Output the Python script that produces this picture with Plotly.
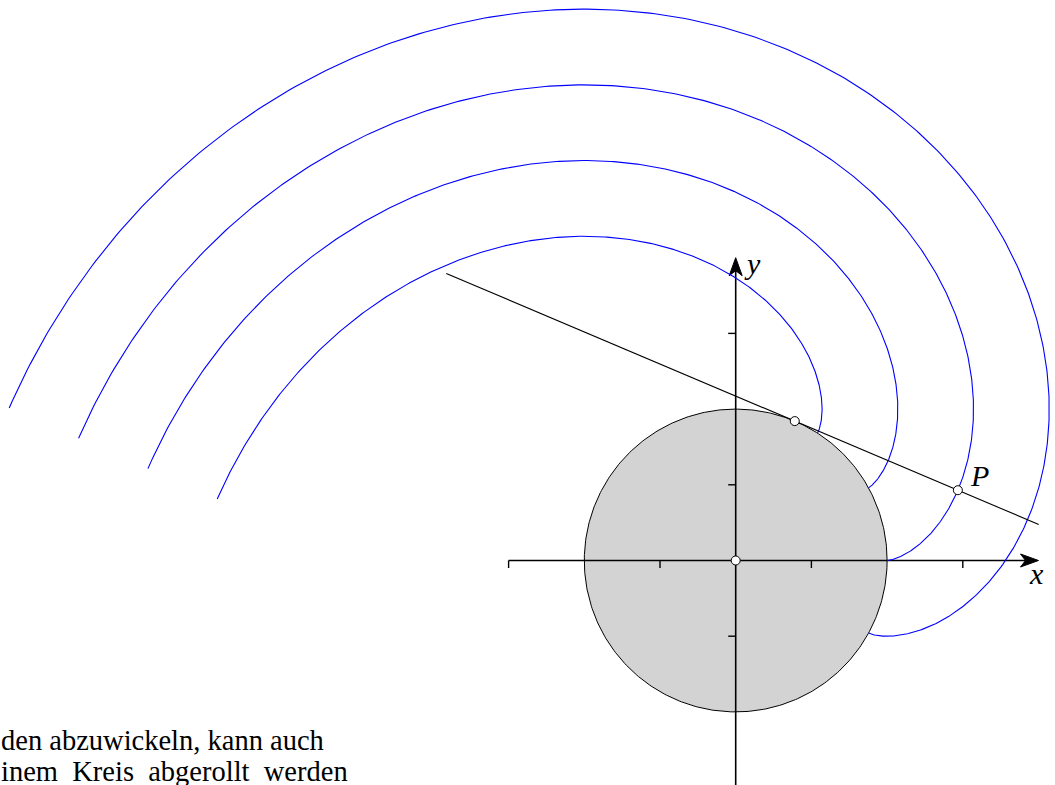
import numpy as np
import plotly.graph_objects as go

# ---- data / parameters ----
radius = 2.0
start_angles = [-0.5, 0.0, 0.5, 1.0]     # where each string starts unwinding (rad)
end_angle = 4.3                           # common end of unwinding (rad)
tangent_angle = 1.17                      # tangent point of the shown string
tangent_extent = [-5.0, 3.5]              # extent of the tangent line (units along line)
x_axis_range = [-3.0, 4.0]
y_axis_range = [-3.0, 4.0]
x_ticks = [-3, -1, 1, 3]
y_ticks = [-3, -1, 1, 3]
axis_labels = ["x", "y"]
point_label = "P"
text_lines = ["den abzuwickeln, kann auch", "inem Kreis abgerollt werden"]

# ---- pixel mapping ----
W, H = 1055, 785
cx, cy, unit = 735.7, 560.5, 75.7
xr = [-cx / unit, (W - cx) / unit]
yr = [(cy - H) / unit, cy / unit]
px = 1.0 / unit

fig = go.Figure()

# filled circle
th = np.linspace(0, 2 * np.pi, 400)
fig.add_trace(go.Scatter(x=radius * np.cos(th), y=radius * np.sin(th), mode="lines",
                         fill="toself", fillcolor="#d3d3d3",
                         line=dict(color="black", width=1), hoverinfo="skip"))

# axes
fig.add_trace(go.Scatter(x=[x_axis_range[0], x_axis_range[1] - 10 * px], y=[0, 0], mode="lines",
                         line=dict(color="black", width=1.6), hoverinfo="skip"))
fig.add_trace(go.Scatter(x=[0, 0], y=[y_axis_range[0], y_axis_range[1] - 10 * px], mode="lines",
                         line=dict(color="black", width=1.6), hoverinfo="skip"))
tl = 7.5 * px
tx, ty = [], []
for t in x_ticks:
    tx += [t, t, None]
    ty += [0, -tl, None]
fig.add_trace(go.Scatter(x=tx, y=ty, mode="lines", line=dict(color="black", width=1.4), hoverinfo="skip"))
tx, ty = [], []
for t in y_ticks:
    tx += [0, -tl, None]
    ty += [t, t, None]
fig.add_trace(go.Scatter(x=tx, y=ty, mode="lines", line=dict(color="black", width=1.4), hoverinfo="skip"))

# arrowheads (stealth-like)
L, Wd, N = 18 * px, 6.5 * px, 13 * px
xe = x_axis_range[1]
fig.add_trace(go.Scatter(x=[xe, xe - L, xe - N, xe - L, xe], y=[0, Wd, 0, -Wd, 0], mode="lines",
                         fill="toself", fillcolor="black", line=dict(color="black", width=1),
                         hoverinfo="skip"))
ye = y_axis_range[1]
fig.add_trace(go.Scatter(x=[0, Wd, 0, -Wd, 0], y=[ye, ye - L, ye - N, ye - L, ye], mode="lines",
                         fill="toself", fillcolor="black", line=dict(color="black", width=1),
                         hoverinfo="skip"))

# involutes
for a0 in start_angles:
    s = np.linspace(a0, end_angle, 500)
    t = s - a0
    xs = radius * (np.cos(s) + t * np.sin(s))
    ys = radius * (np.sin(s) - t * np.cos(s))
    fig.add_trace(go.Scatter(x=xs, y=ys, mode="lines", line=dict(color="#0000ff", width=1.1),
                             hoverinfo="skip"))

# tangent line
Tx, Ty = radius * np.cos(tangent_angle), radius * np.sin(tangent_angle)
dx, dy = np.sin(tangent_angle), -np.cos(tangent_angle)
fig.add_trace(go.Scatter(x=[Tx + tangent_extent[0] * dx, Tx + tangent_extent[1] * dx],
                         y=[Ty + tangent_extent[0] * dy, Ty + tangent_extent[1] * dy],
                         mode="lines", line=dict(color="black", width=1.1), hoverinfo="skip"))

# point P on involute starting at 0
tp = tangent_angle
Px = radius * (np.cos(tp) + tp * np.sin(tp))
Py = radius * (np.sin(tp) - tp * np.cos(tp))
fig.add_trace(go.Scatter(x=[0, Tx, Px], y=[0, Ty, Py], mode="markers",
                         marker=dict(size=9, color="white", line=dict(color="black", width=1)),
                         hoverinfo="skip"))

math_font = dict(family="Liberation Serif", size=30, color="black")
annotations = [
    dict(x=xe - 2 * px, y=6 * px, text="<i>%s</i>" % axis_labels[0], xanchor="center", yanchor="top"),
    dict(x=6 * px, y=ye + 13 * px, text="<i>%s</i>" % axis_labels[1], xanchor="left", yanchor="top"),
    dict(x=Px + 10 * px, y=Py - 4 * px, text="<i>%s</i>" % point_label, xanchor="left", yanchor="bottom"),
]
for a in annotations:
    a.update(xref="x", yref="y", showarrow=False, font=math_font)

text_font = dict(family="Liberation Serif", size=28.5, color="black")
word_gap = [" ", "\u00a0 "]          # second (justified) line has wider word spacing
for i, line in enumerate(text_lines):
    baseline = 751 + 31 * i
    annotations.append(dict(x=-1.0 / W, y=(H - baseline - 7) / H, text=word_gap[i].join(line.split(" ")),
                            xref="paper", yref="paper", xanchor="left", yanchor="bottom",
                            showarrow=False, font=text_font))

fig.update_layout(
    width=W, height=H, margin=dict(l=0, r=0, t=0, b=0),
    paper_bgcolor="white", plot_bgcolor="white", showlegend=False,
    xaxis=dict(range=xr, visible=False, fixedrange=True),
    yaxis=dict(range=yr, visible=False, fixedrange=True),
    annotations=annotations,
)

fig.write_html("out.html", config={"displayModeBar": False},
               post_script="document.body.style.margin='0';")
